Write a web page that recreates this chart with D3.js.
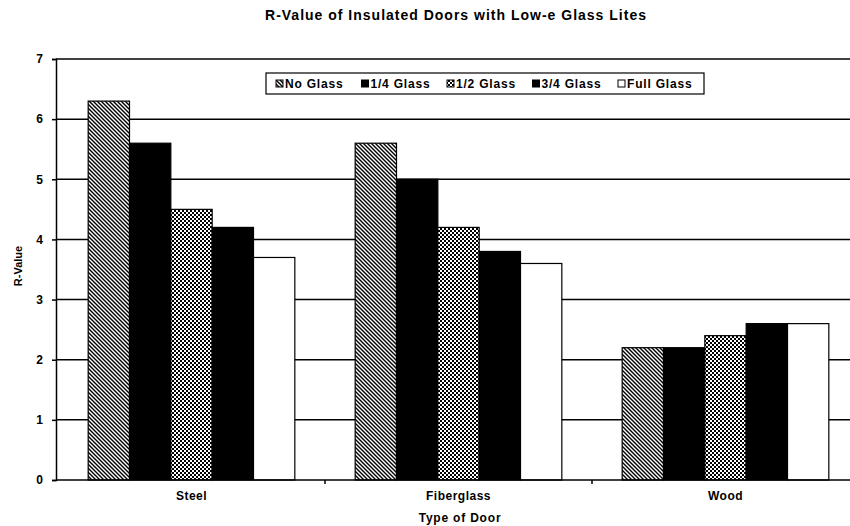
<html>
<script src="https://d3js.org/d3.v7.min.js"></script>
<style>
  body { margin: 0; background: #fff; }
  text { font-family: "Liberation Sans", Arial, sans-serif; font-weight: bold; fill: #000; }
</style>
<body>
<svg width="850" height="526"></svg>
<script>
// data
var doorTypes = ["Steel", "Fiberglass", "Wood"];
var glassTypes = ["No Glass", "1/4 Glass", "1/2 Glass", "3/4 Glass", "Full Glass"];
var noGlass   = [6.3, 5.6, 2.2];
var quarter   = [5.6, 5.0, 2.2];
var half      = [4.5, 4.2, 2.4];
var threeQtr  = [4.2, 3.8, 2.6];
var fullGlass = [3.7, 3.6, 2.6];
var yTicks = [0, 1, 2, 3, 4, 5, 6, 7];

function draw() {
  var seriesValues = [noGlass, quarter, half, threeQtr, fullGlass];
  var fills = ["url(#diag)", "#000", "url(#check)", "#000", "#fff"];

  var svg = d3.select("svg");

  // patterns
  var defs = svg.append("defs");
  var diag = defs.append("pattern").attr("id", "diag")
      .attr("patternUnits", "userSpaceOnUse").attr("width", 4).attr("height", 4);
  diag.append("rect").attr("width", 4).attr("height", 4).attr("fill", "#fff");
  diag.append("path").attr("d", "M-1,-1 L5,5 M-1,3 L1,5 M3,-1 L5,1")
      .attr("stroke", "#000").attr("stroke-width", 1.4);

  var check = defs.append("pattern").attr("id", "check")
      .attr("patternUnits", "userSpaceOnUse").attr("width", 4).attr("height", 4);
  check.append("rect").attr("width", 4).attr("height", 4).attr("fill", "#fff");
  check.append("rect").attr("width", 2).attr("height", 2).attr("fill", "#000");
  check.append("rect").attr("x", 2).attr("y", 2).attr("width", 2).attr("height", 2).attr("fill", "#000");

  var plotLeft = 56, plotRight = 858, plotTop = 59, plotBottom = 480;

  var x0 = d3.scaleBand().domain(doorTypes).range([58, 859]);
  var x1 = d3.scaleBand().domain(glassTypes).range([0, x0.bandwidth()]).paddingOuter(0.73);
  var y = d3.scaleLinear().domain([0, 7]).range([plotBottom, plotTop]);

  // gridlines
  svg.append("g").selectAll("line").data(yTicks.filter(function(d){ return d > 0; })).enter().append("line")
    .attr("x1", plotLeft).attr("x2", plotRight)
    .attr("y1", function(d){ return y(d); }).attr("y2", function(d){ return y(d); })
    .attr("stroke", "#000").attr("stroke-width", 1.5);

  // bars
  var groups = svg.append("g").selectAll("g").data(glassTypes).enter().append("g");
  groups.each(function(s, si) {
    d3.select(this).selectAll("rect").data(doorTypes).enter().append("rect")
      .attr("x", function(d){ return x0(d) + x1(s); })
      .attr("y", function(d, i){ return y(seriesValues[si][i]); })
      .attr("width", x1.bandwidth())
      .attr("height", function(d, i){ return plotBottom - y(seriesValues[si][i]); })
      .attr("fill", fills[si])
      .attr("stroke", "#000").attr("stroke-width", 1.2);
  });

  // y axis
  var yAxis = svg.append("g").attr("transform", "translate(" + plotLeft + ",0)")
    .call(d3.axisLeft(y).tickValues(yTicks).tickSize(4).tickPadding(9).tickFormat(d3.format("d")));
  yAxis.select(".domain").attr("stroke-width", 1.5);
  yAxis.selectAll("line").attr("stroke-width", 1.5);
  yAxis.selectAll("text").style("font-size", "12px").style("font-family", "Liberation Sans").style("font-weight", "bold");

  // x axis
  var xAxis = svg.append("g").attr("transform", "translate(0," + plotBottom + ")")
    .call(d3.axisBottom(x0).tickSize(0).tickPadding(11));
  xAxis.select(".domain").attr("d", "M" + plotLeft + ",0H" + plotRight).attr("stroke-width", 1.5);
  xAxis.selectAll("text").style("font-size", "12px").style("letter-spacing", "0.5px")
    .style("font-family", "Liberation Sans").style("font-weight", "bold");
  // tick marks between categories
  svg.append("g").selectAll("line").data(doorTypes.slice(1)).enter().append("line")
    .attr("x1", function(d){ return x0(d); }).attr("x2", function(d){ return x0(d); })
    .attr("y1", plotBottom).attr("y2", plotBottom + 4)
    .attr("stroke", "#000").attr("stroke-width", 1.5);

  // titles
  svg.append("text").attr("x", 456).attr("y", 20).attr("text-anchor", "middle")
    .style("font-size", "14px").style("letter-spacing", "1px")
    .text("R-Value of Insulated Doors with Low-e Glass Lites");
  svg.append("text").attr("x", 460).attr("y", 522).attr("text-anchor", "middle")
    .style("font-size", "12px").style("letter-spacing", "0.8px").text("Type of Door");
  svg.append("text").attr("transform", "translate(22,266) rotate(-90)").attr("text-anchor", "middle")
    .style("font-size", "11px").text("R-Value");

  // legend
  var legend = svg.append("g");
  legend.append("rect").attr("x", 266).attr("y", 73).attr("width", 438).attr("height", 21)
    .attr("fill", "#fff").attr("stroke", "#000").attr("stroke-width", 1.2);
  var lx = d3.scalePoint().domain(glassTypes).range([276, 618]);
  var items = legend.selectAll("g.item").data(glassTypes).enter().append("g").attr("class", "item");
  items.append("rect")
    .attr("x", function(d){ return lx(d); }).attr("y", 80).attr("width", 7).attr("height", 7)
    .attr("fill", function(d, i){ return fills[i]; })
    .attr("stroke", "#000").attr("stroke-width", 1);
  items.append("text")
    .attr("x", function(d){ return lx(d) + 9; }).attr("y", 88)
    .style("font-size", "12px").style("letter-spacing", "0.8px")
    .text(function(d){ return d; });
}
draw();
</script>
</body>
</html>
